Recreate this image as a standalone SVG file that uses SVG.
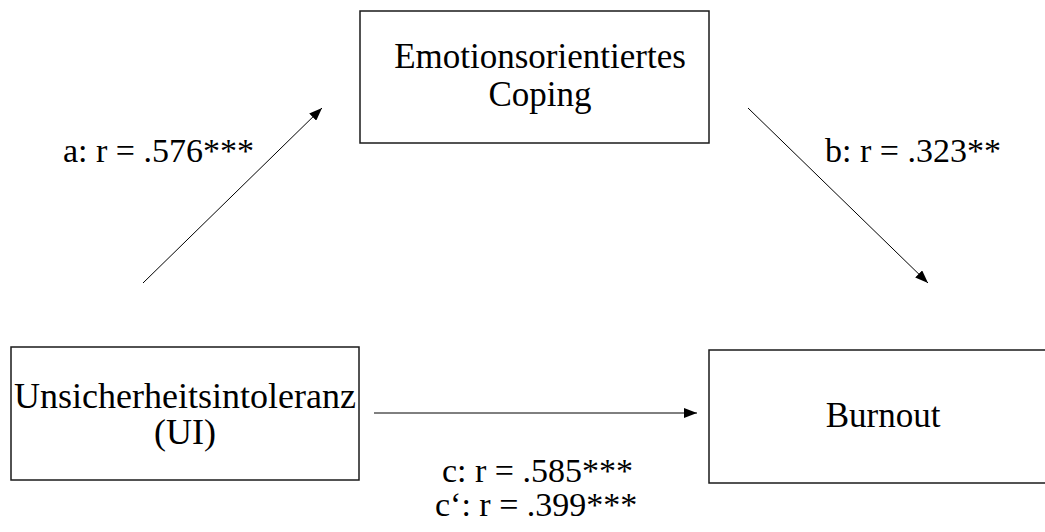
<svg xmlns="http://www.w3.org/2000/svg" width="1045" height="532" viewBox="0 0 1045 532">
<style>
.box{fill:#fff;stroke:#1a1a1a;stroke-width:1.5}
.c{stroke:#000;stroke-width:1;fill:none}
</style>
<defs>
<marker id="ah" markerUnits="userSpaceOnUse" markerWidth="14" markerHeight="10" refX="13" refY="5" orient="auto">
<path d="M0,0 L13,5 L0,10 Z" fill="#000"/>
</marker>
</defs>
<rect width="1045" height="532" fill="#fff"/>
<g font-family="Liberation Serif, serif" fill="#000">
<g id="node-coping">
<rect class="box" x="360" y="11" width="349" height="132"/>
<text x="540" y="68" font-size="35" text-anchor="middle">Emotionsorientiertes</text>
<text x="540" y="106" font-size="35" text-anchor="middle">Coping</text>
</g>
<g id="node-ui">
<rect class="box" x="11" y="347" width="348" height="133"/>
<text x="185" y="408" font-size="36" text-anchor="middle">Unsicherheitsintoleranz</text>
<text x="185" y="444" font-size="36" text-anchor="middle">(UI)</text>
</g>
<g id="node-burnout">
<rect class="box" x="709" y="350" width="350" height="133"/>
<text x="883" y="427" font-size="35" text-anchor="middle">Burnout</text>
</g>
<g id="connectors">
<line class="c" x1="143" y1="283" x2="322" y2="108" marker-end="url(#ah)"/>
<line class="c" x1="748" y1="108" x2="928" y2="283" marker-end="url(#ah)"/>
<line class="c" x1="374" y1="413" x2="697" y2="413" marker-end="url(#ah)"/>
</g>
<g id="labels" font-size="34">
<text x="63" y="162">a: r = .576***</text>
<text x="825" y="162">b: r = .323**</text>
<text x="442" y="482">c: r = .585***</text>
<text x="435" y="516">c‘: r = .399***</text>
</g>
</g>
</svg>
